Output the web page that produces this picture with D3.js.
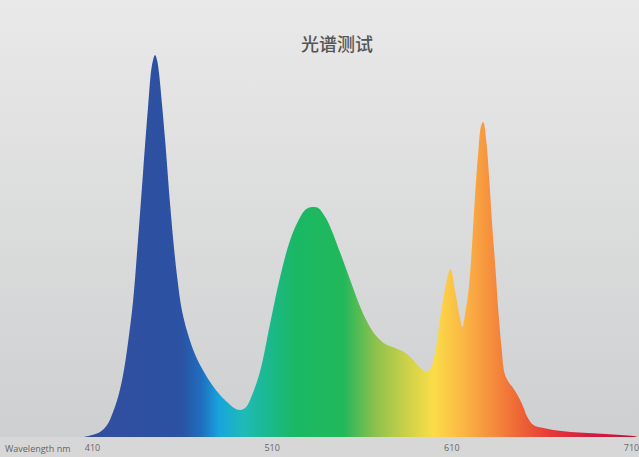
<!DOCTYPE html>
<html><head><meta charset="utf-8">
<script src="https://cdn.jsdelivr.net/npm/d3@7"></script>
<style>
html,body{margin:0;padding:0;background:#ddd;}
svg{display:block;}
</style></head>
<body>
<svg id="chart" width="639" height="457"></svg>
<script>
// ---- data ----
const title = "光谱测试";
const axisName = "Wavelength nm";
const tickLabels = [410, 510, 610, 710];
const wavelengths = [405.5,410,414.5,418.4,421.7,424.5,427.3,430.1,432.8,435.6,438.4,441.2,443.4,445.1,446.2,447.3,449,450.7,453.5,455.7,457.4,460.1,464.6,468.5,473,476.9,481.3,485.8,489.1,492.5,495.8,499.1,503.6,509.2,514.7,520.3,525.9,529.2,532.6,535.9,539.8,542.6,548.2,553.7,559.3,563.2,567.7,573.2,578.8,584.4,588.8,592.7,596.1,598.3,601.1,603.9,606.7,609.5,612.3,614.5,616.2,617.8,619.5,621.1,622.8,625,626.7,627.8,629.5,631.2,632.8,634.5,636.2,637.9,639.6,641.8,644,646.8,649.6,652.3,655.7,661.3,666.8,676.3,685.8,695.8,704.2,711.4,713.6];
const intensity = [0,2,5,12,25,40,62,95,135,197,264,330,372,382,377,364,332,297,232,188,160,126,96,78,63,52,42,34,29,27,30,42,66,114,160,197,220,228,230,229,220,210,184,157,130,115,102,93,89,84,77,69,65,68,85,120,150,168,144,122,110,125,145,180,230,285,312,315,295,255,210,170,125,90,64,55,50,42,32,20,12,9,7,5,4,3,2,1,0];
// spectrum colour stops (wavelength nm -> colour)
const stopWl = [405,460,471,481,494,508,522,550,567,584,600,617,634,648,665,687,714];
const stopColor = ["#344d9e","#2b52a3","#1f6ec0","#18a5dc","#1fbab8","#1bb98e","#1ab866","#22b85a","#8ac04e","#c8d048","#fbdd48","#fbb545","#f58a3c","#ee6536","#e53a38","#d11c40","#c0143c"];

const W = 639, H = 457;
const svg = d3.select("#chart");
const x = d3.scaleLinear().domain([410, 710]).range([92, 631]);
const y = d3.scaleLinear().domain([0, 382]).range([437, 55]);

const defs = svg.append("defs");
const bg = defs.append("linearGradient").attr("id","bg").attr("x1",0).attr("y1",0).attr("x2",0).attr("y2",1);
bg.append("stop").attr("offset","0%").attr("stop-color","#e9e9e9");
bg.append("stop").attr("offset","100%").attr("stop-color","#cdcecf");

const sg = defs.append("linearGradient").attr("id","spec")
  .attr("gradientUnits","userSpaceOnUse")
  .attr("x1", x(stopWl[0])).attr("x2", x(stopWl[stopWl.length-1])).attr("y1",0).attr("y2",0);
const span = stopWl[stopWl.length-1]-stopWl[0];
stopWl.forEach((w,i)=>{
  sg.append("stop").attr("offset", ((w-stopWl[0])/span*100)+"%").attr("stop-color", stopColor[i]);
});

svg.append("rect").attr("width",W).attr("height",H).attr("fill","url(#bg)");
svg.append("rect").attr("x",0).attr("y",y(0)).attr("width",W).attr("height",H-y(0)).attr("fill","#d7d7d7");

const data = wavelengths.map((w,i)=>({w, v:intensity[i]}));
const area = d3.area().x(d=>x(d.w)).y0(y(0)).y1(d=>Math.min(y(0), y(d.v))).curve(d3.curveCatmullRom.alpha(0.5));
svg.append("path").datum(data).attr("d", area).attr("fill","url(#spec)");

const axis = d3.axisBottom(x).tickValues(tickLabels).tickSize(0).tickPadding(0).tickFormat(d3.format("d"));
const ag = svg.append("g").attr("transform",`translate(0,${y(0)+8})`).call(axis);
ag.select(".domain").remove();
ag.selectAll("text").attr("font-family","Open Sans, sans-serif").attr("font-size",9).attr("fill","#666");

svg.append("text").attr("x",5).attr("y",452).text(axisName)
  .attr("font-family","Open Sans, sans-serif").attr("font-size",9).attr("fill","#666");

svg.append("text").attr("x",337).attr("y",51).attr("text-anchor","middle").text(title)
  .attr("font-family","Noto Sans CJK SC, sans-serif").attr("font-size",18).attr("font-weight",500).attr("fill","#555");
</script>
</body></html>
